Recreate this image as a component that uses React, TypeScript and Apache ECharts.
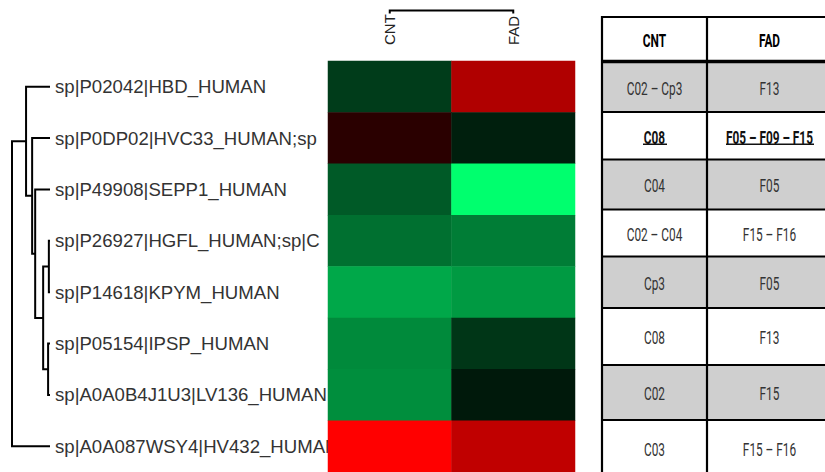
import React, { useEffect, useRef } from "react";
import * as echarts from "echarts";

// ---------- data ----------
const rowLabels = [
  "sp|P02042|HBD_HUMAN",
  "sp|P0DP02|HVC33_HUMAN;sp",
  "sp|P49908|SEPP1_HUMAN",
  "sp|P26927|HGFL_HUMAN;sp|C",
  "sp|P14618|KPYM_HUMAN",
  "sp|P05154|IPSP_HUMAN",
  "sp|A0A0B4J1U3|LV136_HUMAN",
  "sp|A0A087WSY4|HV432_HUMAN",
];
const groups = ["CNT", "FAD"];
const cntValues = [-0.71, 0.49, -1.06, -1.32, -1.98, -1.62, -1.67, 3.0];
const fadValues = [2.07, -0.36, -3.0, -1.47, -1.81, -0.64, -0.29, 2.26];
// linkage: [childA, childB, height]; index >= leaves count refers to earlier merge
const rowMerges = [
  [3, 4, 0.03],
  [5, 6, 0.05],
  [8, 9, 0.18],
  [2, 10, 0.39],
  [1, 11, 0.47],
  [0, 12, 0.63],
  [13, 7, 1.0],
];
const colMerges = [[0, 1, 1.0]];
const tableHeader = ["CNT", "FAD"];
const tableCNT = ["C02 – Cp3", "C08", "C04", "C02 – C04", "Cp3", "C08", "C02", "C03"];
const tableFAD = ["F13", "F05 – F09 – F15", "F05", "F15 – F16", "F05", "F13", "F15", "F15 – F16"];
const highlightRow = 1;

// ---------- layout ----------
const tableLines = [17, 61.5, 112, 159.5, 209.5, 256.5, 308, 365, 420, 477];
const tableX = [602, 707, 832];

function dendroRenderer(merges: number[][], nLeaves: number, horizontal: boolean) {
  return (params: any, api: any) => {
    const pos = (n: number): number[] => {
      if (n < nLeaves) return horizontal ? api.coord([0, n]) : api.coord([n, 0]);
      const m = merges[n - nLeaves];
      const a = pos(m[0]);
      const b = pos(m[1]);
      if (horizontal) {
        const x = api.coord([m[2], 0])[0];
        return [x, (a[1] + b[1]) / 2];
      }
      const y = api.coord([0, m[2]])[1];
      return [(a[0] + b[0]) / 2, y];
    };
    const m = merges[params.dataIndex];
    const a = pos(m[0]);
    const b = pos(m[1]);
    let pts;
    if (horizontal) {
      const x = api.coord([m[2], 0])[0];
      pts = [[a[0], a[1]], [x, a[1]], [x, b[1]], [b[0], b[1]]];
    } else {
      const y = api.coord([0, m[2]])[1];
      pts = [[a[0], a[1]], [a[0], y], [b[0], y], [b[0], b[1]]];
    }
    return {
      type: "polyline",
      shape: { points: pts },
      style: { stroke: "#000", lineWidth: 2, fill: null },
    };
  };
}

function buildTable() {
  const els: any[] = [];
  const left = tableX[0];
  const right = tableX[2];
  for (let r = 0; r < tableCNT.length; r++) {
    if (r % 2 === 0) {
      els.push({
        type: "rect",
        shape: { x: left, y: tableLines[r + 1], width: right - left, height: tableLines[r + 2] - tableLines[r + 1] },
        style: { fill: "#cfcfcf" },
        silent: true,
      });
    }
  }
  tableLines.forEach((y, i) => {
    els.push({
      type: "line",
      shape: { x1: left - 1, y1: y, x2: right, y2: y },
      style: { stroke: "#000", lineWidth: i === 1 ? 3.5 : 2 },
      silent: true,
    });
  });
  [tableX[0], tableX[1]].forEach((x) => {
    els.push({
      type: "line",
      shape: { x1: x, y1: tableLines[0] - 1, x2: x, y2: tableLines[tableLines.length - 1] },
      style: { stroke: "#000", lineWidth: 2.2 },
      silent: true,
    });
  });
  const colCenters = [(tableX[0] + tableX[1]) / 2, (tableX[1] + tableX[2]) / 2];
  const addText = (txt: string, cx: number, cy: number, bold: boolean, color: string) => {
    els.push({
      type: "text",
      x: cx,
      y: cy,
      scaleX: 0.64,
      style: {
        text: txt,
        x: 0,
        y: 0,
        align: "center",
        verticalAlign: "middle",
        fontFamily: "Roboto",
        fontSize: 18.5,
        fontWeight: bold ? "bold" : "normal",
        fill: color,
      },
      silent: true,
    });
  };
  tableHeader.forEach((h, c) => addText(h, colCenters[c], (tableLines[0] + tableLines[1]) / 2 + 2, true, "#000"));
  for (let r = 0; r < tableCNT.length; r++) {
    const cy = (tableLines[r + 1] + tableLines[r + 2]) / 2 + 2;
    const hl = r === highlightRow;
    addText(tableCNT[r], colCenters[0], cy, hl, hl ? "#111" : "#333");
    addText(tableFAD[r], colCenters[1], cy, hl, hl ? "#111" : "#333");
  }
  const uy = (tableLines[highlightRow + 1] + tableLines[highlightRow + 2]) / 2 + 8.5;
  [[643, 667], [726, 814]].forEach(([x1, x2]) => {
    els.push({
      type: "line",
      shape: { x1, y1: uy, x2, y2: uy },
      style: { stroke: "#111", lineWidth: 1.5 },
      silent: true,
    });
  });
  return els;
}

export default function App() {
  const ref = useRef<HTMLDivElement>(null);
  useEffect(() => {
    document.body.style.margin = "0";
    if (!ref.current) return;
    const chart = echarts.init(ref.current, null, { renderer: "svg" });
    const heatData: number[][] = [];
    rowLabels.forEach((_, i) => {
      heatData.push([0, i, cntValues[i]]);
      heatData.push([1, i, fadValues[i]]);
    });
    const option: any = {
      animation: false,
      backgroundColor: "#fff",
      grid: [
        { left: 328, top: 61, width: 247, height: 416 },
        { left: 12, top: 61, width: 38, height: 416 },
        { left: 328, top: 10.5, width: 247, height: 3 },
      ],
      xAxis: [
        {
          type: "category",
          data: groups,
          gridIndex: 0,
          position: "top",
          axisLine: { show: false },
          axisTick: { show: false },
          splitLine: { show: false },
          axisLabel: {
            rotate: -90,
            margin: 16,
            fontSize: 15,
            color: "#222",
            fontFamily: "Liberation Sans",
          },
        },
        { type: "value", gridIndex: 1, min: 0, max: 1, inverse: true, show: false },
        { type: "category", data: groups, gridIndex: 2, show: false },
      ],
      yAxis: [
        {
          type: "category",
          data: rowLabels,
          gridIndex: 0,
          inverse: true,
          axisLine: { show: false },
          axisTick: { show: false },
          splitLine: { show: false },
          axisLabel: {
            interval: 0,
            align: "left",
            margin: 273,
            fontSize: 18.6,
            color: "#333",
            fontFamily: "Liberation Sans",
            padding: [4, 0, 0, 0],
          },
        },
        { type: "category", data: rowLabels, gridIndex: 1, inverse: true, show: false },
        { type: "value", gridIndex: 2, min: 0, max: 1, show: false },
      ],
      visualMap: {
        show: false,
        seriesIndex: 0,
        min: -3,
        max: 3,
        inRange: { color: ["#00ff6e", "#000000", "#ff0000"] },
      },
      series: [
        {
          type: "heatmap",
          xAxisIndex: 0,
          yAxisIndex: 0,
          data: heatData,
          z: 5,
          itemStyle: { borderWidth: 0 },
          emphasis: { disabled: true },
        },
        {
          type: "custom",
          xAxisIndex: 1,
          yAxisIndex: 1,
          data: rowMerges.map((m) => [m[2], 0]),
          renderItem: dendroRenderer(rowMerges, rowLabels.length, true),
          silent: true,
        },
        {
          type: "custom",
          xAxisIndex: 2,
          yAxisIndex: 2,
          data: colMerges.map((m) => [0, m[2]]),
          renderItem: dendroRenderer(colMerges, groups.length, false),
          silent: true,
        },
      ],
      graphic: buildTable(),
    };
    chart.setOption(option);
    return () => chart.dispose();
  }, []);
  return <div ref={ref} style={{ width: 825, height: 472 }} />;
}
